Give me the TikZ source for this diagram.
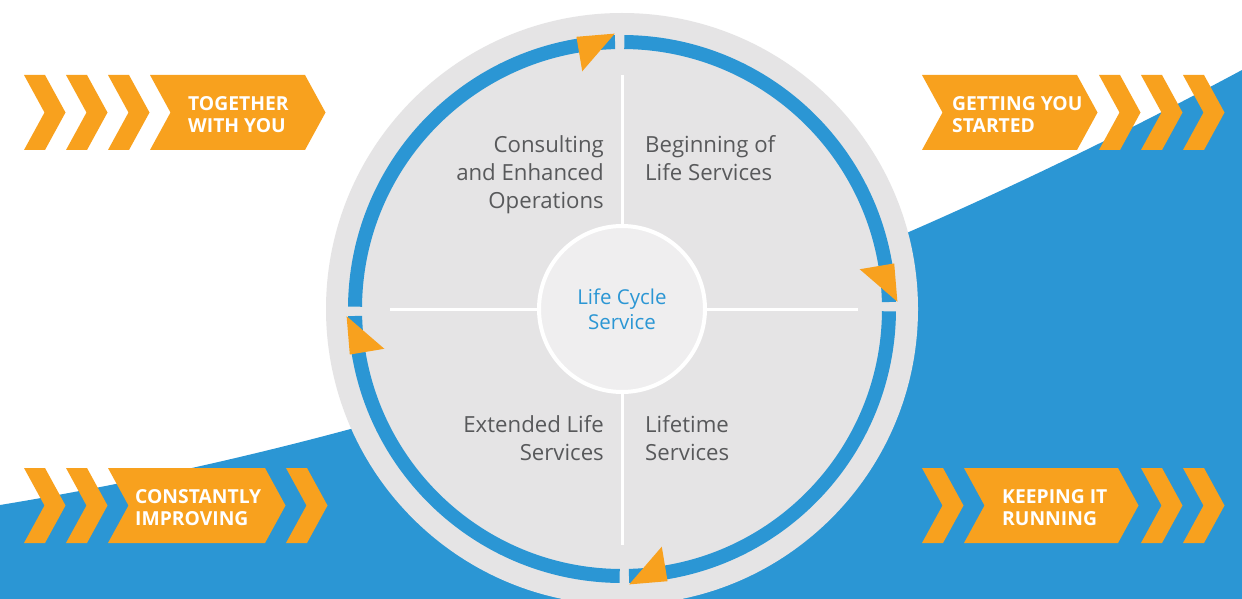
\documentclass[tikz,border=0pt]{standalone}
\usepackage{fontspec}
\setmainfont{Open Sans}
\definecolor{brandblue}{HTML}{2B96D4}
\definecolor{brandorange}{HTML}{F8A11E}
\definecolor{discgrey}{HTML}{E5E4E5}
\definecolor{hubgrey}{HTML}{EFEEEF}
\definecolor{textgrey}{HTML}{58595B}
\newcommand\chevshape[2]{%
  \fill[brandorange] (#1,#2) -- ++(21,0) -- ++(20.5,37.5) -- ++(-20.5,37.5) -- ++(-21,0) -- ++(20.5,-37.5) -- cycle;}
\newcommand\bigarrowshape[3]{%
  \fill[brandorange] (#1,#2) -- ++(#3,0) -- ++(20.5,37.5) -- ++(-20.5,37.5) -- ++(-#3,0) -- ++(20.5,-37.5) -- cycle;}
\tikzset{
  chevlabel/.style={text=white, font=\bfseries\fontsize{19.3}{22}\selectfont, align=left, inner sep=0pt, anchor=north west},
  quadtext/.style={text=textgrey, font=\fontsize{22.2}{28.2}\selectfont, inner sep=0pt},
  ring/.style={draw=brandblue, line width=14pt},
  spoke/.style={draw=white, line width=3pt},
}
\begin{document}
\begin{tikzpicture}[x=1pt,y=-1pt]
\useasboundingbox (0,0) rectangle (1242,599);
\clip (0,0) rectangle (1242,599);
\fill[white] (0,0) rectangle (1242,599);
% blue swoosh
\fill[brandblue] (0,505) .. controls (414,437) and (828,292) .. (1242,70) -- (1242,600) -- (0,600) -- cycle;
% chevrons top-left
\chevshape{24}{75}\chevshape{66}{75}\chevshape{108}{75}\bigarrowshape{150}{75}{155}
% bottom-left
\chevshape{24}{468}\chevshape{66}{468}\bigarrowshape{108}{468}{157}\chevshape{286}{468}
% top-right
\bigarrowshape{922}{75}{155}\chevshape{1099}{75}\chevshape{1141}{75}\chevshape{1183}{75}
% bottom-right
\chevshape{922}{468}\bigarrowshape{964}{468}{154}\chevshape{1141}{468}\chevshape{1183}{468}
\node[chevlabel] (l1) at (188,96) {TOGETHER\\WITH YOU};
\node[chevlabel] (l2) at (135,489) {CONSTANTLY\\IMPROVING};
\node[chevlabel] (l3) at (952,96) {GETTING YOU\\STARTED};
\node[chevlabel] (l4) at (1002,489) {KEEPING IT\\RUNNING};
% disc
\coordinate (C) at (622,309);
\fill[discgrey] (C) circle[radius=296];
\begin{scope}[shift={(622,309)}]
  \foreach \t in {0,90,180,270}{
    \draw[ring] (-\t-1.5:267) arc[start angle=-\t-1.5, end angle=-\t-89.5, radius=267];
    \fill[brandorange] (-\t-1.5:275.5) -- (-\t-9.5:276) -- (-\t-9.5:241) -- cycle;
  }
\end{scope}
% spokes and hub
\node[circle, minimum size=166pt, inner sep=0pt, fill=hubgrey, draw=white, line width=4pt,
      text=brandblue, font=\fontsize{20.5}{25}\selectfont, align=center] (hub) at (C) {Life Cycle\\Service};
\coordinate (sn) at (622,75);
\coordinate (ss) at (622,545);
\coordinate (sw) at (390,309);
\coordinate (se) at (858,309);
\draw[spoke] (sn) -- (hub.north);
\draw[spoke] (ss) -- (hub.south);
\draw[spoke] (sw) -- (hub.west);
\draw[spoke] (se) -- (hub.east);
% quadrant texts
\node[quadtext, anchor=north east, align=right] (q1) at (604,135.5) {Consulting\\and Enhanced\\Operations};
\node[quadtext, anchor=north west, align=left] (q2) at (645,135.5) {Beginning of\\Life Services};
\node[quadtext, anchor=north east, align=right] (q3) at (604,415.5) {Extended Life\\Services};
\node[quadtext, anchor=north west, align=left] (q4) at (645,415.5) {Lifetime\\Services};
\end{tikzpicture}
\end{document}
